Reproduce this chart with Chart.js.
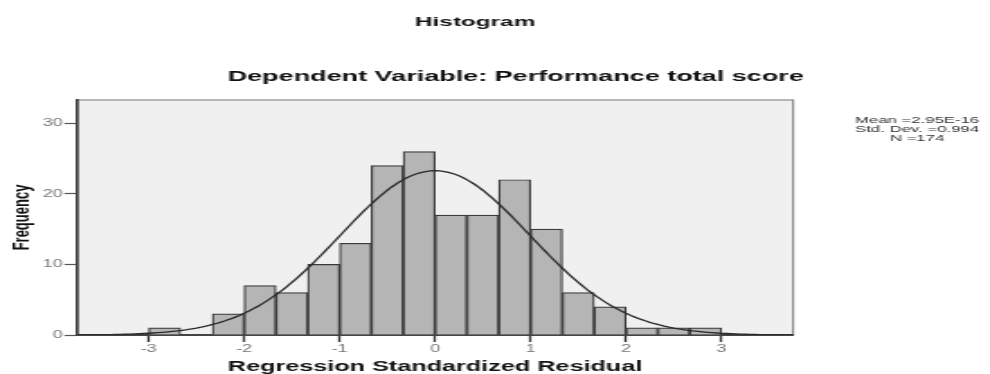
<!DOCTYPE html>
<html>
<head>
<meta charset="utf-8">
<title>Histogram</title>
<script src="https://cdn.jsdelivr.net/npm/chart.js@4"></script>
<style>
  html, body { margin:0; padding:0; background:#fff; overflow:hidden; }
  /* the original picture is stretched sideways, so draw narrow and stretch */
  #wrap { width:550px; height:374px; transform:scaleX(1.8); transform-origin:0 0; }
</style>
</head>
<body>
<div id="wrap"><canvas id="chart" width="550" height="374"></canvas></div>
<script>
// bins are 1/3 wide, values are the bin centres
const binCenters = [-2.8333, -2.5, -2.1667, -1.8333, -1.5, -1.1667, -0.8333, -0.5, -0.1667,
                    0.1667, 0.5, 0.8333, 1.1667, 1.5, 1.8333, 2.1667, 2.5, 2.8333];
const frequencies = [1, 0, 3, 7, 6, 10, 13, 24, 26, 17, 17, 22, 15, 6, 4, 1, 1, 1];
const binWidth = 1 / 3;

const xTicks = [-3, -2, -1, 0, 1, 2, 3];
const yTicks = [0, 10, 20, 30];

// stats shown next to the plot (used for the normal curve too)
const statMean = 2.95e-16;
const statSd = 0.994;
const statN = 174;
const statLines = ['Mean =2.95E-16', 'Std. Dev. =0.994', 'N =174'];

const mainTitle = 'Histogram';
const subTitle = 'Dependent Variable: Performance total score';

Chart.defaults.font.family = '"Liberation Sans", Arial, sans-serif';

// normal curve scaled to counts: N * binWidth * pdf(x)
function normalCurve() {
  const pts = [];
  for (let x = -3.75; x <= 3.7501; x += 0.05) {
    const z = (x - statMean) / statSd;
    const y = statN * binWidth * Math.exp(-0.5 * z * z) / (statSd * Math.sqrt(2 * Math.PI));
    pts.push({ x: x, y: y });
  }
  return pts;
}

const plotFrame = {
  id: 'plotFrame',
  beforeDraw(chart) {
    const { ctx, chartArea: a } = chart;
    ctx.save();
    ctx.fillStyle = '#f0f0f0';
    ctx.fillRect(a.left, a.top, a.right - a.left, a.bottom - a.top);
    ctx.strokeStyle = '#8a8a8a';
    ctx.lineWidth = 1.2;
    ctx.strokeRect(a.left, a.top, a.right - a.left, a.bottom - a.top);
    ctx.restore();
  }
};

const textBits = {
  id: 'textBits',
  afterDraw(chart) {
    const ctx = chart.ctx;
    const fam = Chart.defaults.font.family;
    ctx.save();
    ctx.textAlign = 'center';
    ctx.textBaseline = 'middle';
    ctx.fillStyle = '#111';
    ctx.font = 'bold 13.5px ' + fam;
    ctx.fillText(mainTitle, 264, 22);
    ctx.font = 'bold 15px ' + fam;
    ctx.fillText(subTitle, 286.5, 77);
    ctx.fillStyle = '#333';
    ctx.font = '9.3px ' + fam;
    statLines.forEach((t, i) => ctx.fillText(t, 509.5, 120.5 + i * 8.9));
    ctx.restore();
  }
};

const barData = binCenters.map((c, i) => ({ x: c, y: frequencies[i] }));

new Chart(document.getElementById('chart'), {
  type: 'bar',
  data: {
    datasets: [
      {
        type: 'line',
        data: normalCurve(),
        borderColor: '#2a2a2a',
        borderWidth: 1.3,
        pointRadius: 0,
        tension: 0,
        order: 0
      },
      {
        type: 'bar',
        data: barData,
        backgroundColor: '#b5b5b5',
        borderColor: '#3a3a3a',
        borderWidth: 1.2,
        barPercentage: 1,
        categoryPercentage: 1,
        order: 1
      }
    ]
  },
  options: {
    responsive: false,
    animation: false,
    events: [],
    layout: { padding: { left: 0, top: 100, right: 109.4, bottom: 0 } },
    plugins: {
      legend: { display: false },
      tooltip: { enabled: false },
      title: { display: false }
    },
    scales: {
      x: {
        type: 'linear',
        min: -3.75,
        max: 3.75,
        offset: false,
        afterBuildTicks: s => { s.ticks = xTicks.map(v => ({ value: v })); },
        afterFit: s => { s.height = 39; },
        grid: { drawOnChartArea: false, offset: false, tickLength: 7, tickWidth: 1.3, tickColor: '#333' },
        border: { color: '#444', width: 2 },
        ticks: { color: '#777', font: { size: 10 }, padding: 1, maxRotation: 0, autoSkip: false },
        title: {
          display: true,
          text: 'Regression Standardized Residual',
          color: '#111',
          font: { size: 14, weight: 'bold', lineHeight: 1 },
          padding: { top: 0, bottom: 0 }
        }
      },
      y: {
        min: 0,
        max: 33.3,
        afterBuildTicks: s => { s.ticks = yTicks.map(v => ({ value: v })); },
        afterFit: s => { s.width = 42.8; },
        grid: { drawOnChartArea: false, tickLength: 7, tickWidth: 1.2, tickColor: '#555' },
        border: { color: '#444', width: 1.7 },
        ticks: { color: '#777', font: { size: 10 }, padding: 1 },
        title: {
          display: true,
          text: 'Frequency',
          color: '#111',
          font: { size: 13, weight: 'bold' },
          padding: { top: 4.5, bottom: 0 }
        }
      }
    }
  },
  plugins: [plotFrame, textBits]
});
</script>
</body>
</html>
